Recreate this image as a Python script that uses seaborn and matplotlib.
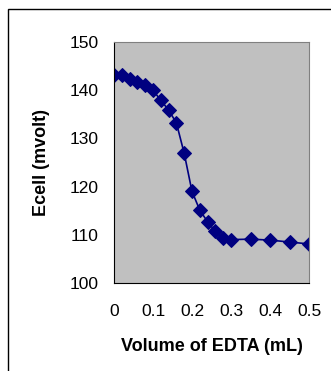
import matplotlib
matplotlib.use("Agg")
import matplotlib.pyplot as plt
import seaborn as sns
import pandas as pd
from matplotlib.patches import Rectangle

# titration data
volume = [0, 0.02, 0.04, 0.06, 0.08, 0.1, 0.12, 0.14, 0.16, 0.18,
          0.2, 0.22, 0.24, 0.26, 0.28, 0.3, 0.35, 0.4, 0.45, 0.5]
ecell = [143.2, 143.2, 142.4, 141.8, 141.1, 140.0, 137.9, 135.9, 133.2, 126.9,
         119.0, 115.1, 112.7, 110.7, 109.3, 109.0, 109.1, 108.9, 108.5, 108.1]
xticks = [0, 0.1, 0.2, 0.3, 0.4, 0.5]
xticklabels = ["0", "0.1", "0.2", "0.3", "0.4", "0.5"]
yticks = [100, 110, 120, 130, 140, 150]

df = pd.DataFrame({"Volume": volume, "Ecell": ecell})

sns.set_style("white")
plt.rcParams['font.family'] = ['Liberation Sans', 'DejaVu Sans']
plt.rcParams['text.color'] = 'black'
plt.rcParams['axes.labelcolor'] = 'black'
plt.rcParams['xtick.color'] = 'black'
plt.rcParams['ytick.color'] = 'black'

W, H = 331, 371
fig = plt.figure(figsize=(W / 100, H / 100), dpi=100)
ax = fig.add_axes([114 / W, 1 - 283 / H, (309 - 114) / W, (283 - 42) / H])
ax.set_facecolor("#C0C0C0")

sns.lineplot(data=df, x="Volume", y="Ecell", ax=ax, color="#000080",
             marker="D", markersize=7, markeredgecolor="#000080", linewidth=1.2)

ax.set_xlim(0, 0.5)
ax.set_ylim(100, 150)
ax.set_xticks(xticks)
ax.set_xticklabels(xticklabels)
ax.set_yticks(yticks)
ax.tick_params(axis="both", labelsize=12.5, length=6, width=1,
               direction="out", pad=5)
ax.tick_params(axis="x", length=5, pad=10)
for s in ["top", "right"]:
    ax.spines[s].set_color("#808080")
for s in ["left", "bottom"]:
    ax.spines[s].set_color("black")

ax.set_xlabel("Volume of EDTA (mL)", fontsize=13, fontweight="bold", labelpad=14)
ax.set_ylabel("Ecell (mvolt)", fontsize=13, fontweight="bold", labelpad=14)

# outer chart frame
fig.patches.append(Rectangle((8 / W, -0.1), 1.2, 1 - 9 / H + 0.1,
                             transform=fig.transFigure, fill=False,
                             edgecolor="black", linewidth=1))

fig.savefig("out.png", dpi=100)
